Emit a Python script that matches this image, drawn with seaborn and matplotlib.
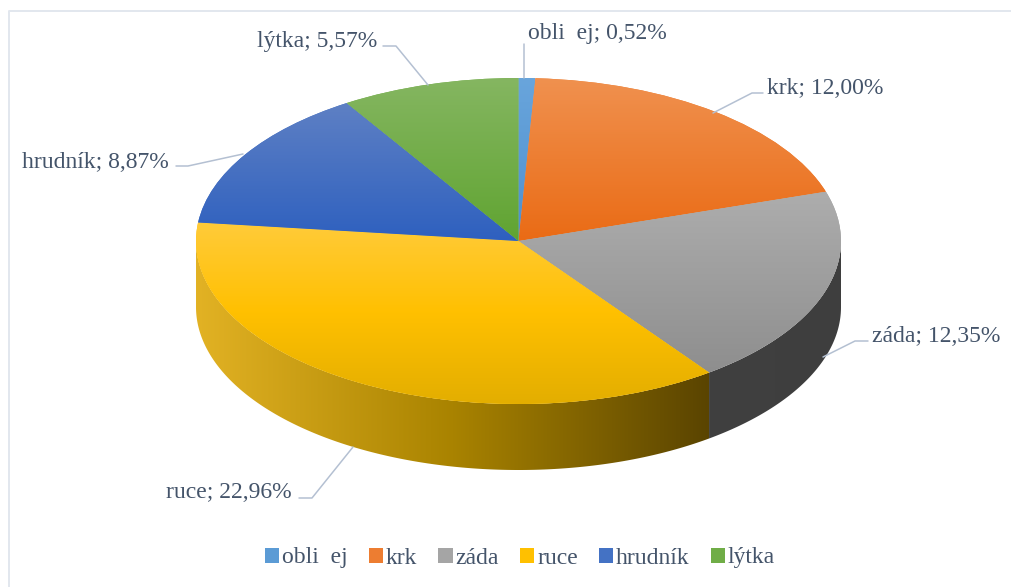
import numpy as np
import matplotlib
matplotlib.use("Agg")
import matplotlib.pyplot as plt
from matplotlib.colors import LinearSegmentedColormap
from matplotlib.patches import Polygon
import seaborn as sns

# data
parts = ["obli  ej", "krk", "záda", "ruce", "hrudník", "lýtka"]
values = [0.52, 12.00, 12.35, 22.96, 8.87, 5.57]

base_colors = ["#5B9BD5", "#ED7D31", "#A5A5A5", "#FFC000", "#4472C4", "#70AD47"]
top_grads = [
    ["#69A5DC", "#4E90CE"],
    ["#F0914F", "#EA6B15"],
    ["#ADADAD", "#8E8E8E"],
    ["#FFCB3A", "#FFC000", "#E3AE00"],
    ["#5E80C4", "#2E60BF"],
    ["#85B661", "#60A431"],
]
side_grads = {2: ["#404040", "#3E3E3E"], 3: ["#E2B224", "#A98300", "#5A4400"]}

TEXT = "#44546A"
LEADER = "#B4C0D2"
CX, CY, RX, RY, DEPTH = 518.5, 241, 322.5, 163, 66


def px(x, y):
    # picture pixels to pie units
    return (x - CX) / RX, (CY - y) / RY


label_pos = [(528, 33), (767, 88), (872, 336), (166, 493), (22, 162), (257, 41)]
leaders = [
    [(524, 44), (524, 78)],
    [(763, 93), (752, 93), (713, 113)],
    [(868, 341), (855, 341), (823, 357)],
    [(299, 498), (312, 498), (353, 447)],
    [(176, 166), (188, 166), (243, 154)],
    [(383, 46), (396, 46), (428, 85)],
]

sns.set_theme(style="white")
plt.rcParams["font.family"] = ["Liberation Serif", "DejaVu Serif"]

fig = plt.figure(figsize=(10.11, 5.87), dpi=100)
ax = fig.add_axes([0, 0, 1, 1])

wedges, _ = ax.pie(values, colors=sns.color_palette(base_colors), startangle=90,
                   counterclock=False, radius=1, wedgeprops={"linewidth": 0, "zorder": 3})
ax.set_aspect("auto")

ramp = np.linspace(0, 1, 256)
depth = DEPTH / RY

# side wall, only the lower half of the rim shows
for i, w in enumerate(wedges):
    lo, hi = max(w.theta1, -180), min(w.theta2, 0)
    if lo >= hi or i not in side_grads:
        continue
    t = np.radians(np.linspace(lo, hi, 200))
    xs, ys = np.cos(t), np.sin(t)
    poly = np.vstack([np.c_[xs, ys], np.c_[xs, ys - depth][::-1]])
    patch = Polygon(poly, closed=True, facecolor="none", edgecolor="none", zorder=1)
    ax.add_patch(patch)
    cmap = LinearSegmentedColormap.from_list(f"side{i}", side_grads[i])
    img = ax.imshow(ramp[None, :], cmap=cmap, aspect="auto", zorder=2,
                    extent=(poly[:, 0].min(), poly[:, 0].max(), poly[:, 1].min(), poly[:, 1].max()))
    img.set_clip_path(patch)

# top face, each slice has its own vertical gradient
for i, w in enumerate(wedges):
    box = w.get_path().get_extents()
    cmap = LinearSegmentedColormap.from_list(f"top{i}", top_grads[i])
    img = ax.imshow(ramp[:, None], cmap=cmap, aspect="auto", zorder=4, origin="upper",
                    extent=(box.x0, box.x1, box.y0, box.y1))
    img.set_clip_path(w)

# data labels and leader lines
for name, val, pos, line in zip(parts, values, label_pos, leaders):
    txt = f"{name}; {val:.2f}%".replace(".", ",")
    x, y = px(*pos)
    ax.text(x, y, txt, color=TEXT, fontsize=17, ha="left", va="center", zorder=6)
    pts = np.array([px(*p) for p in line])
    ax.plot(pts[:, 0], pts[:, 1], color=LEADER, lw=1.1, zorder=5)

# chart border
edge = np.array([px(8.5, 587), px(8.5, 11), px(1011, 11)])
ax.plot(edge[:, 0], edge[:, 1], color="#E2E7EE", lw=1.4, zorder=0)

lx, ly = px(520, 558)
ax.legend(wedges, parts, ncol=6, loc="center", bbox_to_anchor=(lx, ly),
          bbox_transform=ax.transData, frameon=False, fontsize=17, labelcolor=TEXT,
          handlelength=0.6, handleheight=0.6, handletextpad=0.12, columnspacing=0.9)

ax.set_xlim(px(0, 0)[0], px(1011, 0)[0])
ax.set_ylim(px(0, 587)[1], px(0, 0)[1])
ax.axis("off")

fig.savefig("out.png", dpi=100)
